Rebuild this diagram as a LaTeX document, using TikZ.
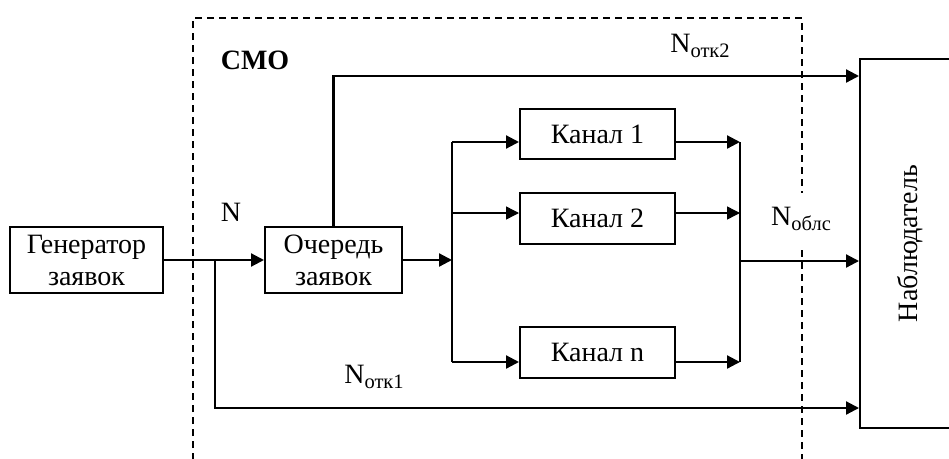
\documentclass[tikz,border=0pt]{standalone}
\usepackage{fontspec}
\setmainfont{Liberation Serif}
\usetikzlibrary{arrows.meta}
% lowered, smaller index for the flow labels
\newcommand\flowidx[1]{\raisebox{-4.5pt}{\fontsize{20.5}{21}\selectfont #1}}
\begin{document}
\begin{tikzpicture}[x=1pt,y=-1pt,
  txt/.style={font=\fontsize{28}{32}\selectfont},
  box/.style={draw,line width=2pt,align=center,inner sep=0pt,txt},
  wire/.style={line width=2.2pt},
  flow/.style={wire,-{Triangle[length=13pt,width=13pt]}},
  thinflow/.style={line width=1.4pt,-{Triangle[length=13pt,width=13pt]}},
  frame/.style={line width=1.5pt,dash pattern=on 7pt off 5pt}]
\clip (0,0) rectangle (949,458);
\fill[white] (0,0) rectangle (949,458);

% system boundary (СМО), open at the bottom
\draw[frame] (193,460) -- (193,18) -- (802,18) -- (802,193);
\draw[frame] (802,250) -- (802,460);

% blocks
\node[box,minimum width=153pt,minimum height=66pt] (gen) at (86.5,260) {Генератор\\заявок};
\node[box,minimum width=137pt,minimum height=66pt] (queue) at (333.5,260) {Очередь\\заявок};
\node[box,minimum width=155pt,minimum height=50pt] (k1) at (597.5,134) {Канал 1};
\node[box,minimum width=155pt,minimum height=51pt] (k2) at (597.5,218.5) {Канал 2};
\node[box,minimum width=155pt,minimum height=51pt] (kn) at (597.5,352.5) {Канал n};
\node[box,minimum width=140pt,minimum height=369pt] (obs) at (930,243.5) {};
\node[txt,rotate=90] (obsText) at (910,243.5) {Наблюдатель};

% junction points
\coordinate (j1) at (215,260);
\coordinate (r1) at (215,408);
\coordinate (r2) at (333.5,76);
\coordinate (sp) at (452,260);
\coordinate (sA) at (452,142);
\coordinate (sB) at (452,213);
\coordinate (sC) at (452,362);
\coordinate (mA) at (740,142);
\coordinate (mB) at (740,213);
\coordinate (mC) at (740,362);
\coordinate (mo) at (740,261);

% flows
\draw[flow] (gen.east) -- (queue.west);
\draw[flow] (j1) -- (r1) -- (r1 -| obs.west);
\draw[flow] (queue.north) -- (r2) -- (r2 -| obs.west);
\draw[flow] (queue.east) -- (sp);
\draw[wire] (sA) -- (sC);
\draw[flow] (sA) -- (sA -| k1.west);
\draw[thinflow] (sB) -- (sB -| k2.west);
\draw[flow] (sC) -- (sC -| kn.west);
\draw[flow] (k1.east |- mA) -- (mA);
\draw[thinflow] (k2.east |- mB) -- (mB);
\draw[flow] (kn.east |- mC) -- (mC);
\draw[wire] (mA) -- (mC);
\draw[flow] (mo) -- (mo -| obs.west);

% labels
\node[txt,font=\fontsize{28}{32}\selectfont\bfseries] (smo) at (255,60) {СМО};
\node[txt] (lN) at (231,212) {N};
\node[txt] (lN2) at (700,46) {N\flowidx{отк2}};
\node[txt] (lN1) at (374,377) {N\flowidx{отк1}};
\node[txt] (lNo) at (801,219) {N\flowidx{облс}};
\end{tikzpicture}
\end{document}
